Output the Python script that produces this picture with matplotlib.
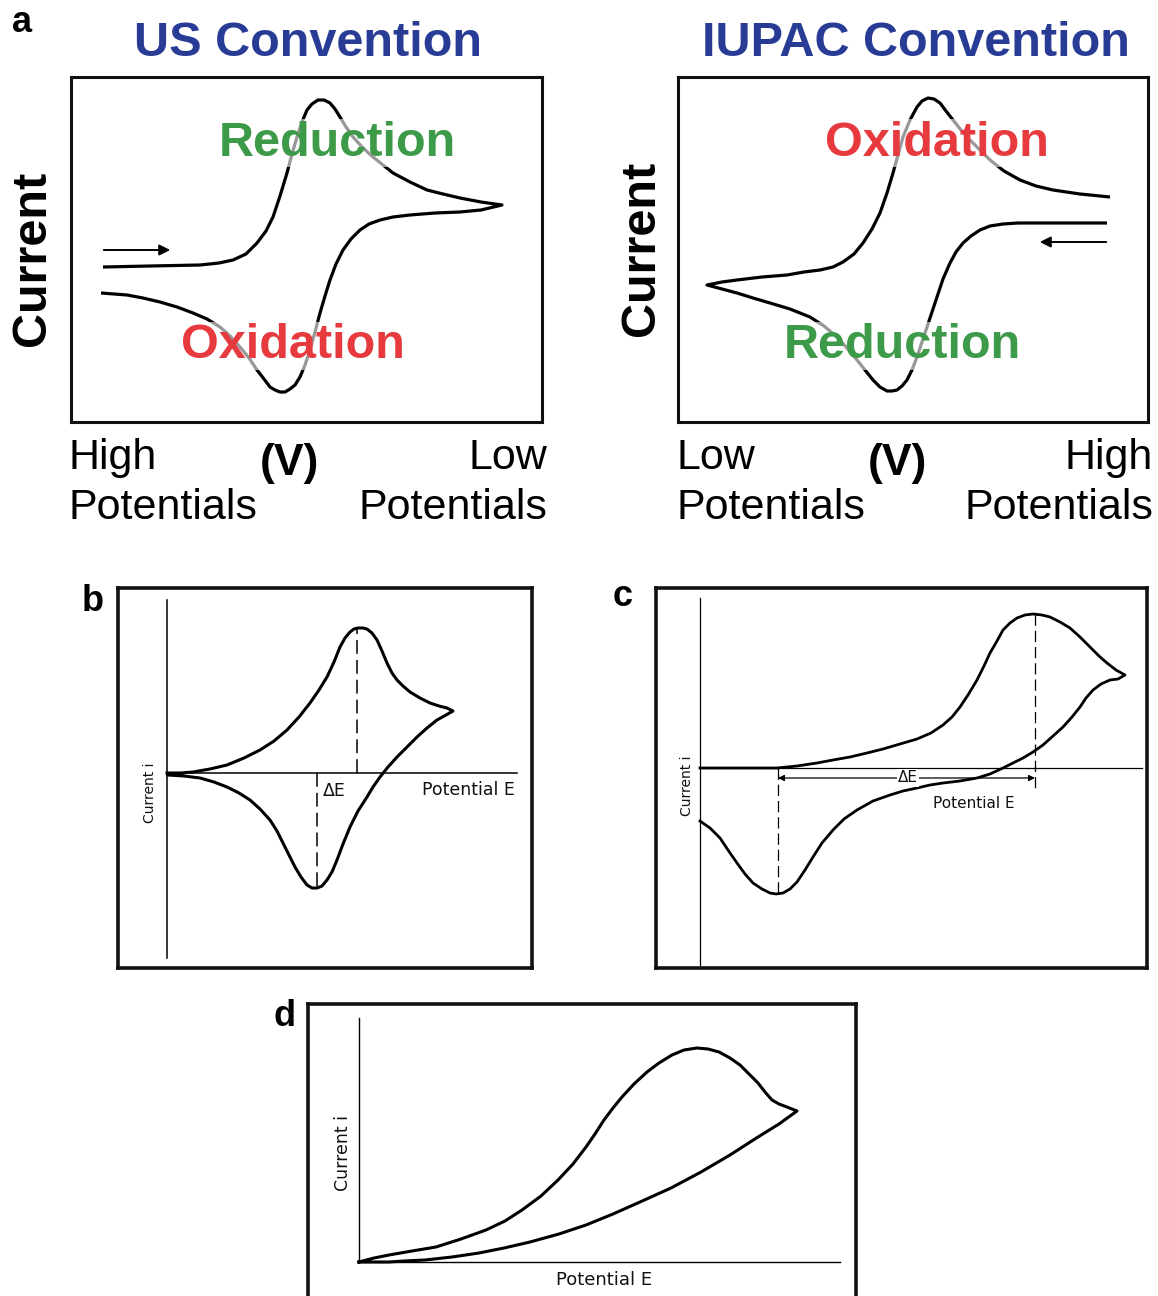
import matplotlib
matplotlib.use('Agg')
import matplotlib.pyplot as plt

W, H = 1158, 1296

# ---- panel a, US convention (box units: x right, current up) ----
us_fwd_x = [32, 79, 129, 148, 162, 175, 186, 195, 202, 209, 216, 221, 226, 231, 236, 241, 247,
            253, 259, 264, 269, 275, 282, 292, 302, 312, 322, 339, 356, 372, 389, 410, 431]
us_fwd_y = [155, 156, 157, 159, 162, 168, 179, 191, 205, 226, 249, 268, 285, 300, 312, 318, 322,
            322, 319, 313, 305, 295, 285, 274, 265, 257, 249, 240, 232, 228, 224, 220, 217]
us_rev_x = [431, 410, 389, 364, 339, 322, 309, 298, 289, 280, 272, 265, 259, 254, 249, 244, 239,
            234, 229, 224, 219, 214, 209, 204, 199, 193, 186, 178, 169, 159, 149, 136, 122, 106,
            89, 72, 56, 43, 30]
us_rev_y = [217, 212, 210, 209, 207, 205, 202, 198, 192, 183, 172, 158, 142, 126, 109, 90, 72,
            57, 45, 37, 33, 30, 30, 32, 35, 43, 52, 64, 75, 86, 95, 103, 109, 115,
            120, 124, 127, 128, 129]

# ---- panel a, IUPAC convention ----
iu_ox_x = [29, 44, 59, 84, 109, 126, 142, 155, 165, 176, 185, 194, 202, 209, 215, 220, 225, 232,
           239, 244, 250, 256, 262, 268, 275, 283, 292, 302, 312, 326, 342, 358, 375, 402, 432]
iu_ox_y = [137, 140, 142, 145, 147, 150, 152, 155, 160, 168, 179, 193, 209, 229, 249, 267, 285, 302,
           315, 321, 324, 323, 319, 311, 302, 292, 282, 272, 262, 251, 242, 236, 232, 228, 225]
iu_red_x = [429, 394, 359, 340, 325, 312, 302, 293, 285, 278, 272, 265, 259, 254, 249, 244, 239,
            234, 229, 224, 219, 214, 209, 202, 195, 187, 179, 169, 159, 146, 132, 112, 92, 75,
            59, 44, 29]
iu_red_y = [199, 199, 199, 199, 198, 196, 192, 186, 179, 170, 159, 143, 125, 110, 95, 80, 65,
            52, 42, 36, 32, 31, 31, 35, 42, 52, 62, 74, 85, 96, 105, 113, 119, 124,
            129, 133, 137]

# ---- panel b (E, i relative to drawn axes) ----
b_fwd_e = [0, 13, 26, 43, 60, 77, 93, 107, 120, 132, 143, 152, 160, 167, 173, 178, 183, 187, 191,
           196, 200, 205, 210, 215, 220, 225, 230, 236, 243, 253, 263, 272, 280, 286]
b_fwd_i = [0, 0, 1, 4, 8, 15, 23, 32, 43, 56, 70, 83, 96, 111, 126, 135, 141, 144, 145,
           145, 144, 140, 133, 122, 110, 100, 93, 87, 81, 75, 70, 67, 65, 62]
b_rev_e = [286, 279, 270, 260, 250, 240, 230, 221, 213, 206, 200, 191, 183, 176, 170, 165, 160,
           155, 150, 145, 140, 134, 128, 122, 116, 110, 103, 93, 83, 72, 60, 47, 33, 17, 1]
b_rev_i = [62, 58, 53, 45, 36, 26, 16, 6, -4, -14, -24, -38, -54, -71, -87, -99, -107,
           -113, -115, -115, -112, -104, -94, -82, -70, -58, -47, -36, -27, -20, -14, -9, -5, -3, -2]
b_peaks_e = [190, 150]
b_peaks_i = [145, -115]

# ---- panel c ----
c_fwd_e = [0, 40, 77, 97, 117, 133, 150, 167, 183, 200, 217, 231, 243, 252, 260, 268, 277, 284,
           290, 297, 303, 310, 317, 325, 333, 342, 350, 360, 370, 380, 390, 399, 407, 416, 425]
c_fwd_i = [0, 0, 0, 2, 5, 8, 11, 15, 19, 24, 29, 35, 43, 51, 61, 73, 88, 102,
           115, 127, 138, 145, 150, 153, 154, 153, 151, 146, 140, 131, 121, 112, 105, 98, 93]
c_rev_e = [425, 418, 410, 401, 393, 386, 380, 372, 363, 353, 343, 333, 323, 313, 303, 290, 277,
           260, 243, 230, 217, 203, 190, 173, 157, 144, 133, 122, 113, 105, 97, 90, 83, 76, 70,
           62, 53, 45, 37, 28, 20, 10, 0]
c_rev_i = [91, 89, 88, 84, 78, 70, 61, 51, 41, 32, 23, 16, 10, 5, 0, -6, -10,
           -13, -15, -17, -20, -23, -27, -33, -42, -51, -62, -75, -89, -102, -114, -121, -125, -126, -125,
           -121, -115, -106, -95, -82, -70, -60, -53]
c_peaks_e = [335, 78]
c_peaks_i = [154, -127]

# ---- panel d ----
d_fwd_e = [0, 15, 30, 53, 77, 102, 127, 146, 163, 182, 199, 214, 227, 236, 245, 254, 263, 275,
           288, 300, 313, 325, 338, 349, 360, 371, 381, 390, 399, 406, 413, 420, 428, 433, 438]
d_fwd_i = [0, 4, 7, 11, 15, 23, 32, 41, 52, 66, 82, 98, 115, 128, 142, 154, 165, 178,
           190, 199, 207, 212, 214, 213, 210, 204, 197, 188, 179, 170, 162, 158, 155, 153, 151]
d_rev_e = [438, 420, 399, 371, 342, 312, 281, 254, 227, 200, 171, 145, 120, 93, 66, 45, 30, 0]
d_rev_i = [150, 138, 125, 107, 90, 74, 60, 48, 37, 28, 20, 14, 9, 5, 2, 1, 0, 0]

BLUE = '#283c96'
GREEN = '#3c9a48'
RED = '#e63a3e'

fig = plt.figure(figsize=(W / 100, H / 100), dpi=100)


def box_axes(x0, y0, x1, y1, lw):
    ax = fig.add_axes([x0 / W, 1 - y1 / H, (x1 - x0) / W, (y1 - y0) / H])
    ax.set_xticks([])
    ax.set_yticks([])
    for s in ax.spines.values():
        s.set_linewidth(lw)
        s.set_color('#111111')
    return ax


def ftext(x, y, s, **kw):
    fig.text(x / W, 1 - y / H, s, **kw)


big = dict(family='Liberation Sans', fontsize=35, fontweight='bold')
halo = dict(facecolor='white', alpha=0.6, edgecolor='none', pad=1)

# a - US convention
ax1 = box_axes(71, 77, 542, 422, 2.2)
ax1.set_xlim(0, 471)
ax1.set_ylim(0, 345)
ax1.plot(us_fwd_x + us_rev_x[1:], us_fwd_y + us_rev_y[1:], color='black', lw=2.3,
         solid_joinstyle='round', solid_capstyle='butt')
ax1.annotate('', xy=(102, 172), xytext=(30, 172),
             arrowprops=dict(arrowstyle='-|>', lw=1.4, color='black', mutation_scale=16))
ax1.text(266, 279, 'Reduction', color=GREEN, ha='center', va='center', bbox=halo, **big)
ax1.text(222, 76, 'Oxidation', color=RED, ha='center', va='center', bbox=halo, **big)

# a - IUPAC convention
ax2 = box_axes(678, 77, 1148, 422, 2.2)
ax2.set_xlim(0, 470)
ax2.set_ylim(0, 345)
ax2.plot(iu_red_x + iu_ox_x[1:], iu_red_y + iu_ox_y[1:], color='black', lw=2.3,
         solid_joinstyle='round', solid_capstyle='butt')
ax2.annotate('', xy=(359, 180), xytext=(431, 180),
             arrowprops=dict(arrowstyle='-|>', lw=1.4, color='black', mutation_scale=16))
ax2.text(259, 279, 'Oxidation', color=RED, ha='center', va='center', bbox=halo, **big)
ax2.text(224, 76, 'Reduction', color=GREEN, ha='center', va='center', bbox=halo, **big)

ftext(308, 44, 'US Convention', color=BLUE, ha='center', va='center', **big)
ftext(916, 44, 'IUPAC Convention', color=BLUE, ha='center', va='center', **big)
ftext(33, 258, 'Current', color='black', rotation=90, ha='center', va='center', **big)
ftext(641, 248, 'Current', color='black', rotation=90, ha='center', va='center', **big)

pot = dict(family='Liberation Sans', fontsize=31, va='center', linespacing=1.33)
ftext(68, 483, 'High\nPotentials', ha='left', multialignment='left', **pot)
ftext(547, 483, 'Low\nPotentials', ha='right', multialignment='right', **pot)
ftext(676, 483, 'Low\nPotentials', ha='left', multialignment='left', **pot)
ftext(1153, 483, 'High\nPotentials', ha='right', multialignment='right', **pot)
ftext(289, 464, '(V)', ha='center', va='center', family='Liberation Sans',
      fontsize=32, fontweight='bold')
ftext(897, 464, '(V)', ha='center', va='center', family='Liberation Sans',
      fontsize=32, fontweight='bold')

lab = dict(family='Liberation Sans', fontsize=26, fontweight='bold', ha='center', va='center')
ftext(22, 22, 'a', **lab)
ftext(93, 602, 'b', **lab)
ftext(623, 596, 'c', **lab)
ftext(285, 1017, 'd', **lab)

small = dict(family='DejaVu Sans', color='#111111')

# b
axb = box_axes(118, 588, 532, 968, 2.6)
axb.set_xlim(-49, 365)
axb.set_ylim(-195, 185)
axb.plot([0, 350], [0, 0], color='black', lw=1.1)
axb.plot([0, 0], [-185, 173], color='black', lw=1.1)
axb.plot(b_fwd_e + b_rev_e[1:], b_fwd_i + b_rev_i[1:], color='black', lw=2.2,
         solid_joinstyle='round')
for e, i in zip(b_peaks_e, b_peaks_i):
    axb.plot([e, e], [0, i], color='black', lw=1.1, linestyle=(0, (9, 4)))
axb.text(255, -17, 'Potential E', ha='left', va='center', fontsize=12.5, **small)
axb.text(156, -18, 'ΔE', ha='left', va='center', fontsize=12.5, **small)
axb.text(-17, -20, 'Current i', ha='center', va='center', rotation=90, fontsize=10, **small)

# c
axc = box_axes(656, 588, 1147, 968, 2.6)
axc.set_xlim(-44, 447)
axc.set_ylim(-200, 180)
axc.plot([0, 442], [0, 0], color='black', lw=0.9)
axc.plot([0, 0], [-197, 170], color='black', lw=0.9)
axc.plot(c_fwd_e + c_rev_e[1:], c_fwd_i + c_rev_i[1:], color='black', lw=2.0,
         solid_joinstyle='round')
axc.plot([c_peaks_e[0]] * 2, [c_peaks_i[0], -22], color='black', lw=0.9, linestyle=(0, (9, 4)))
axc.plot([c_peaks_e[1]] * 2, [0, c_peaks_i[1]], color='black', lw=0.9, linestyle=(0, (9, 4)))
axc.annotate('', xy=(c_peaks_e[0], -10), xytext=(c_peaks_e[1], -10),
             arrowprops=dict(arrowstyle='<|-|>', lw=0.9, color='black', mutation_scale=9,
                             shrinkA=0, shrinkB=0))
axc.text(208, -10, 'ΔE', ha='center', va='center', fontsize=11,
         bbox=dict(facecolor='white', edgecolor='none', pad=1), **small)
axc.text(274, -35, 'Potential E', ha='center', va='center', fontsize=11, **small)
axc.text(-13, -18, 'Current i', ha='center', va='center', rotation=90, fontsize=10, **small)

# d
axd = box_axes(308, 1004, 856, 1310, 2.6)
axd.set_xlim(-51, 497)
axd.set_ylim(-48, 258)
axd.plot([0, 481], [0, 0], color='black', lw=1.0)
axd.plot([0, 0], [0, 244], color='black', lw=1.0)
axd.plot(d_fwd_e + d_rev_e[1:], d_fwd_i + d_rev_i[1:], color='black', lw=2.2,
         solid_joinstyle='round')
axd.text(245, -18, 'Potential E', ha='center', va='center', fontsize=13, **small)
axd.text(-16, 109, 'Current i', ha='center', va='center', rotation=90, fontsize=12.5, **small)

fig.savefig('out.png', dpi=100)
